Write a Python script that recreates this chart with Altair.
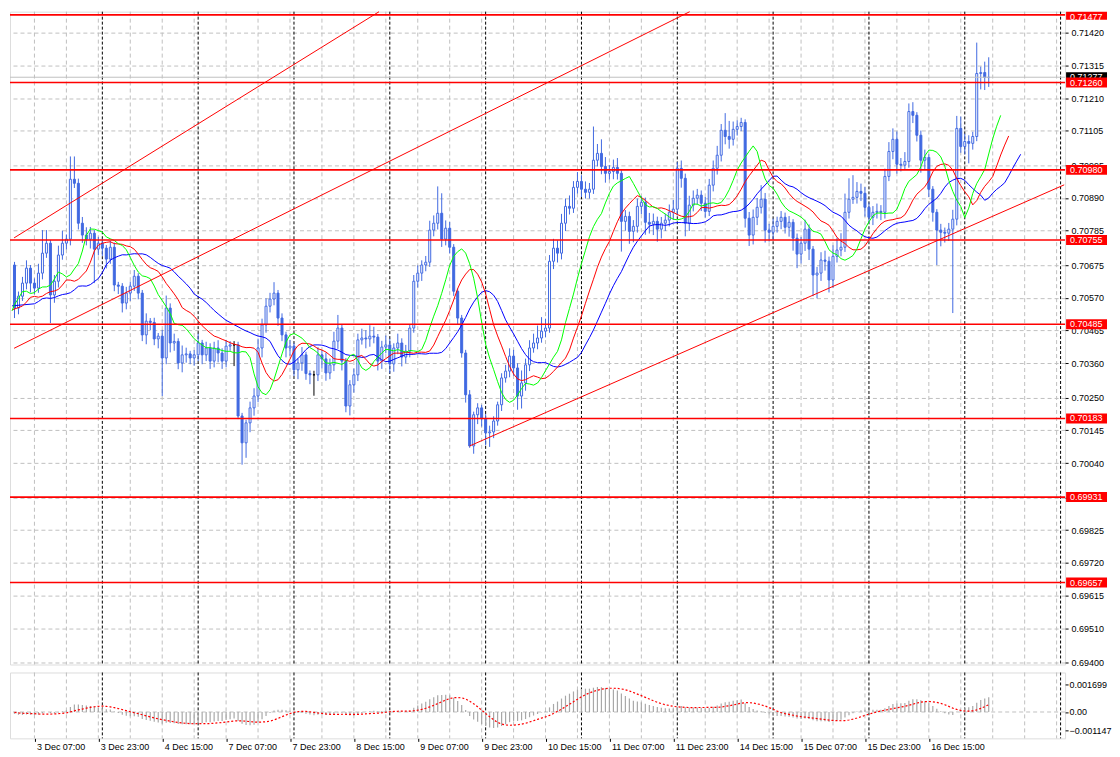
import altair as alt
import pandas as pd

# ---------------- data ----------------
first_open = 0.70595
closes = [
    0.70681, 0.70687, 0.70675, 0.70537, 0.70575, 0.70617, 0.70665, 0.70617, 0.70601, 0.70649,
    0.70713, 0.70745, 0.70579, 0.70623, 0.70707, 0.70745, 0.70758, 0.70950, 0.70937, 0.70809,
    0.70771, 0.70758, 0.70777, 0.70726, 0.70745, 0.70729, 0.70694, 0.70732, 0.70611, 0.70607,
    0.70553, 0.70585, 0.70607, 0.70639, 0.70585, 0.70451, 0.70495, 0.70491, 0.70438, 0.70447,
    0.70377, 0.70537, 0.70425, 0.70430, 0.70361, 0.70387, 0.70390, 0.70377, 0.70387, 0.70425,
    0.70387, 0.70409, 0.70367, 0.70409, 0.70393, 0.70367, 0.70415, 0.70419, 0.70419, 0.70191,
    0.70105, 0.70169, 0.70217, 0.70255, 0.70409, 0.70483, 0.70543, 0.70566, 0.70585, 0.70505,
    0.70451, 0.70409, 0.70415, 0.70339, 0.70361, 0.70387, 0.70327, 0.70323, 0.70323, 0.70387,
    0.70374, 0.70329, 0.70355, 0.70431, 0.70473, 0.70367, 0.70223, 0.70291, 0.70323, 0.70435,
    0.70441, 0.70438, 0.70447, 0.70444, 0.70367, 0.70412, 0.70419, 0.70358, 0.70409, 0.70425,
    0.70380, 0.70399, 0.70473, 0.70623, 0.70649, 0.70675, 0.70684, 0.70787, 0.70809, 0.70841,
    0.70758, 0.70793, 0.70732, 0.70591, 0.70505, 0.70393, 0.70259, 0.70095, 0.70195, 0.70217,
    0.70182, 0.70137, 0.70140, 0.70175, 0.70227, 0.70313, 0.70335, 0.70383, 0.70345, 0.70255,
    0.70297, 0.70355, 0.70409, 0.70425, 0.70441, 0.70463, 0.70473, 0.70687, 0.70729, 0.70713,
    0.70809, 0.70863, 0.70857, 0.70924, 0.70943, 0.70918, 0.70908, 0.70918, 0.71011, 0.71033,
    0.70991, 0.70969, 0.70975, 0.70988, 0.70969, 0.70815, 0.70831, 0.70783, 0.70799, 0.70863,
    0.70876, 0.70812, 0.70806, 0.70815, 0.70790, 0.70809, 0.70819, 0.70844, 0.70854, 0.70985,
    0.70953, 0.70809, 0.70867, 0.70889, 0.70899, 0.70873, 0.70847, 0.70931, 0.70985, 0.71027,
    0.71107, 0.71087, 0.71078, 0.71110, 0.71119, 0.71132, 0.70825, 0.70771, 0.70828, 0.70860,
    0.70886, 0.70787, 0.70780, 0.70799, 0.70815, 0.70828, 0.70796, 0.70812, 0.70761, 0.70710,
    0.70745, 0.70790, 0.70726, 0.70643, 0.70649, 0.70691, 0.70687, 0.70627, 0.70703, 0.70723,
    0.70732, 0.70844, 0.70886, 0.70892, 0.70911, 0.70905, 0.70860, 0.70828, 0.70844, 0.70847,
    0.70844, 0.70959, 0.71039, 0.71078, 0.70998, 0.70995, 0.71007, 0.71167, 0.71155, 0.71091,
    0.71011, 0.71020, 0.70918, 0.70844, 0.70787, 0.70780, 0.70777, 0.70790, 0.70822, 0.71113,
    0.71055, 0.71071, 0.71065, 0.71087, 0.71289, 0.71292, 0.71276, 0.71277,
]
# wick lengths above / below the candle body, in points (0.00001)
upper_wick_pts = [
    15, 10, 20, 10, 15, 20, 25, 10, 15, 30,
    74, 42, 10, 20, 30, 40, 15, 73, 73, 15,
    20, 25, 20, 10, 20, 15, 10, 20, 15, 10,
    10, 20, 15, 20, 10, 10, 25, 10, 15, 10,
    20, 40, 15, 25, 10, 30, 20, 10, 15, 30,
    10, 20, 15, 20, 25, 15, 20, 12, 12, 10,
    10, 10, 20, 25, 30, 20, 25, 20, 35, 10,
    15, 10, 20, 10, 15, 25, 10, 10, 13, 25,
    15, 20, 20, 30, 42, 10, 10, 15, 20, 20,
    30, 25, 35, 30, 10, 20, 30, 20, 15, 30,
    15, 20, 10, 20, 25, 15, 20, 30, 25, 86,
    64, 25, 20, 10, 10, 10, 10, 15, 10, 15,
    10, 15, 20, 15, 10, 15, 20, 25, 20, 15,
    40, 20, 25, 30, 40, 45, 30, 20, 30, 25,
    30, 25, 35, 20, 30, 20, 25, 20, 108, 30,
    45, 30, 20, 25, 30, 10, 20, 15, 20, 25,
    20, 15, 30, 25, 15, 20, 20, 25, 30, 20,
    25, 15, 30, 25, 20, 15, 20, 20, 25, 30,
    20, 55, 50, 25, 20, 15, 10, 20, 25, 30,
    45, 20, 20, 25, 15, 20, 15, 20, 10, 15,
    20, 30, 15, 10, 20, 25, 30, 15, 35, 40,
    45, 60, 67, 71, 30, 25, 20, 15, 20, 25,
    20, 25, 30, 35, 25, 20, 30, 26, 30, 10,
    15, 25, 10, 10, 10, 20, 15, 20, 30, 40,
    38, 25, 20, 15, 99, 19, 35, 64,
]
lower_wick_pts = [
    30, 86, 25, 32, 20, 15, 20, 30, 20, 15,
    20, 15, 90, 25, 20, 15, 20, 20, 15, 20,
    25, 20, 30, 109, 20, 25, 30, 15, 20, 25,
    30, 20, 25, 15, 20, 20, 30, 25, 20, 30,
    122, 20, 30, 25, 20, 30, 25, 20, 25, 20,
    30, 20, 25, 20, 30, 25, 20, 15, 68, 10,
    70, 48, 30, 25, 20, 30, 25, 20, 20, 25,
    20, 30, 25, 20, 30, 25, 20, 30, 67, 20,
    30, 25, 20, 20, 25, 30, 20, 30, 25, 20,
    15, 30, 25, 20, 30, 25, 20, 30, 25, 20,
    30, 20, 20, 15, 20, 25, 20, 15, 20, 20,
    25, 20, 20, 15, 20, 15, 25, 6, 25, 30,
    25, 40, 45, 20, 15, 20, 15, 20, 25, 44,
    40, 25, 20, 15, 20, 15, 20, 15, 25, 30,
    20, 25, 20, 15, 20, 25, 20, 20, 15, 20,
    25, 30, 20, 25, 20, 97, 30, 40, 35, 20,
    25, 40, 30, 35, 40, 30, 25, 20, 25, 20,
    30, 42, 25, 20, 20, 25, 20, 15, 20, 20,
    20, 25, 30, 20, 20, 15, 30, 35, 30, 25,
    20, 40, 30, 25, 20, 25, 20, 30, 40, 45,
    30, 25, 35, 68, 75, 25, 30, 40, 25, 20,
    20, 15, 20, 15, 20, 25, 30, 20, 25, 20,
    25, 20, 15, 25, 30, 20, 15, 20, 25, 20,
    40, 30, 25, 30, 112, 45, 30, 25, 269, 20,
    20, 25, 64, 20, 15, 51, 40, 30,
]

time_tick_bars = [8, 24, 40, 56, 72, 88, 104, 120, 136, 152, 168, 184, 200, 216, 232]
time_tick_labels = ["3 Dec 07:00", "3 Dec 23:00", "4 Dec 15:00", "7 Dec 07:00", "7 Dec 23:00",
                    "8 Dec 15:00", "9 Dec 07:00", "9 Dec 23:00", "10 Dec 15:00", "11 Dec 07:00",
                    "11 Dec 23:00", "14 Dec 15:00", "15 Dec 07:00", "15 Dec 23:00", "16 Dec 15:00"]
day_start_bars = [25, 49, 73, 97, 121, 145, 169, 193, 217, 241, 265]
price_ticks = [0.71420, 0.71315, 0.71210, 0.71105, 0.70995, 0.70890, 0.70785, 0.70675, 0.70570,
               0.70465, 0.70360, 0.70250, 0.70145, 0.70040, 0.69930, 0.69825, 0.69720, 0.69615,
               0.69510, 0.69400]
level_prices = [0.71477, 0.71260, 0.70980, 0.70755, 0.70485, 0.70183, 0.69931, 0.69657]
current_price = 0.71277
channel_upper_bars = [2.9, 94.3]
channel_upper_prices = [0.70762, 0.71487]
channel_mid_bars = [2.9, 172.1]
channel_mid_prices = [0.70408, 0.71487]
channel_low_bars = [117, 265.9]
channel_low_prices = [0.70095, 0.70932]
alligator_seed = {"lips": 0.70528, "teeth": 0.70531, "jaw": 0.70544}
macd_ticks = [0.001699, 0.0, -0.001147]

# ---------------- layout constants ----------------
FONT = "Liberation Sans"
FS = 9
W, H_MAIN, H_MACD = 1057, 654, 66
X_DOMAIN = [1.875, 1.875 + W / 4.0]
Y_DOMAIN = [0.693944, 0.714872]
MACD_DOMAIN = [-0.001641, 0.002461]
BLUE = "#4169e1"
GRID = "#c0c0c0"
BOX_HALF = 5 * (Y_DOMAIN[1] - Y_DOMAIN[0]) / H_MAIN
FIRST_VISIBLE = 3

# ---------------- derived tables ----------------
n = len(closes)
opens = [first_open] + closes[:-1]
rows = []
for i in range(n):
    o, c = opens[i], closes[i]
    hi = max(o, c) + upper_wick_pts[i] / 1e5
    lo = min(o, c) - lower_wick_pts[i] / 1e5
    oi, ci = round(o * 1e5), round(c * 1e5)
    kind = "bull" if ci > oi else ("bear" if ci < oi else "doji")
    rows.append(dict(bar=i, xl=i - 0.25, xr=i + 0.25, open=o, close=c, high=hi, low=lo, kind=kind))
candles = pd.DataFrame(rows)
candles_vis = candles[candles["bar"] >= FIRST_VISIBLE]

median = [(r["high"] + r["low"]) / 2 for r in rows]


def smma(vals, period, seed):
    out, s = [], seed
    for v in vals:
        s = (s * (period - 1) + v) / period
        out.append(s)
    return out


def shifted_line(vals, shift, seed):
    pts = [dict(bar=X_DOMAIN[0] + 0.5, price=seed)]
    pts += [dict(bar=i + shift, price=v) for i, v in enumerate(vals)]
    return pd.DataFrame(pts)


lips = shifted_line(smma(median, 5, alligator_seed["lips"]), 3, alligator_seed["lips"])
teeth = shifted_line(smma(median, 8, alligator_seed["teeth"]), 5, alligator_seed["teeth"])
jaw = shifted_line(smma(median, 13, alligator_seed["jaw"]), 8, alligator_seed["jaw"])


def ema(vals, period):
    a, e, out = 2.0 / (period + 1), vals[0], []
    for v in vals:
        e = e + a * (v - e)
        out.append(e)
    return out


e12, e26 = ema(closes, 12), ema(closes, 26)
macd = [a - b for a, b in zip(e12, e26)]
signal = []
for i in range(n):
    w = macd[max(0, i - 8): i + 1]
    signal.append(sum(w) / len(w))
macd_df = pd.DataFrame(dict(bar=list(range(n)), macd=macd, signal=signal, zero=[0.0] * n))
macd_vis = macd_df[macd_df["bar"] >= FIRST_VISIBLE]

grid_df = pd.DataFrame(dict(bar=list(range(8, 266, 8))))
day_df = pd.DataFrame(dict(bar=day_start_bars))


def box_table(prices):
    return pd.DataFrame(dict(
        price=prices,
        ytop=[min(p + BOX_HALF, Y_DOMAIN[1]) for p in prices],
        ybot=[p - BOX_HALF for p in prices],
        ytext=[min(p, Y_DOMAIN[1] - BOX_HALF) for p in prices],
        label=[f"{p:.5f}" for p in prices]))


levels_df = box_table(level_prices)
cur_df = box_table([current_price])
chan_df = pd.concat([
    pd.DataFrame(dict(bar=channel_upper_bars, price=channel_upper_prices, line="upper")),
    pd.DataFrame(dict(bar=channel_mid_bars, price=channel_mid_prices, line="mid")),
    pd.DataFrame(dict(bar=channel_low_bars, price=channel_low_prices, line="low")),
])

# ---------------- scales / axes ----------------
xs = alt.Scale(domain=X_DOMAIN, nice=False, zero=False)
ys = alt.Scale(domain=Y_DOMAIN, nice=False, zero=False)
ms = alt.Scale(domain=MACD_DOMAIN, nice=False, zero=False)

y_axis = alt.Axis(orient="right", values=price_ticks, format=".5f", title=None, grid=True,
                  gridColor=GRID, gridDash=[4, 3], gridWidth=1, domain=False, tickColor="black",
                  tickSize=3, labelColor="black", labelFont=FONT, labelFontSize=FS, labelPadding=3,
                  labelOverlap=False, labelFlush=False)
m_axis = alt.Axis(orient="right", values=macd_ticks, title=None, grid=False, domain=False,
                  labelExpr="datum.value == 0 ? '0.00' : format(datum.value, '.6f')",
                  tickColor="black", tickSize=3, labelColor="black", labelFont=FONT,
                  labelFontSize=FS, labelPadding=1, labelOverlap=False, labelFlush=False)
lab_arr = "[" + ",".join("'" + s + "'" for s in time_tick_labels) + "]"
bar_arr = "[" + ",".join(str(b) for b in time_tick_bars) + "]"
x_axis = alt.Axis(values=time_tick_bars, title=None, grid=False, domain=False,
                  labelExpr=f"{lab_arr}[indexof({bar_arr}, datum.value)]",
                  tickColor="black", tickSize=3, labelColor="black", labelFont=FONT,
                  labelFontSize=FS, labelAlign="left", labelOffset=2, labelPadding=1,
                  labelOverlap=False, labelFlush=False)


def X(f, axis=None):
    return alt.X(f"{f}:Q", scale=xs, axis=axis)


def Y(f):
    return alt.Y(f"{f}:Q", scale=ys, axis=y_axis)


def MY(f):
    return alt.Y(f"{f}:Q", scale=ms, axis=m_axis)


kinds = ["bull", "bear", "doji"]

# ---------------- main price panel ----------------
vgrid = alt.Chart(grid_df).mark_rule(color=GRID, strokeDash=[4, 3], strokeWidth=1).encode(x=X("bar"))
dsep = alt.Chart(day_df).mark_rule(color="black", strokeDash=[3, 2], strokeWidth=1).encode(x=X("bar"))

wicks = alt.Chart(candles_vis).mark_rule(strokeWidth=1).encode(
    x=X("bar"), y=Y("low"), y2="high",
    color=alt.Color("kind:N", scale=alt.Scale(domain=kinds, range=[BLUE, BLUE, "black"]), legend=None))
bodies = alt.Chart(candles_vis).mark_rect(strokeWidth=1).encode(
    x=X("xl"), x2="xr", y=Y("open"), y2="close",
    fill=alt.Fill("kind:N", scale=alt.Scale(domain=kinds, range=["white", BLUE, "black"]), legend=None),
    stroke=alt.Stroke("kind:N", scale=alt.Scale(domain=kinds, range=[BLUE, BLUE, "black"]), legend=None))

jaw_l = alt.Chart(jaw).mark_line(color="#0000ff", strokeWidth=1).encode(x=X("bar"), y=Y("price"))
teeth_l = alt.Chart(teeth).mark_line(color="#ff0000", strokeWidth=1).encode(x=X("bar"), y=Y("price"))
lips_l = alt.Chart(lips).mark_line(color="#00ff00", strokeWidth=1).encode(x=X("bar"), y=Y("price"))

cur_line = alt.Chart(cur_df).mark_rule(color="#c0c0c0", strokeWidth=1).encode(y=Y("price"))
lev_lines = alt.Chart(levels_df).mark_rule(color="#ff0000", strokeWidth=1.6).encode(y=Y("price"))
chan = alt.Chart(chan_df).mark_line(color="#ff0000", strokeWidth=1).encode(
    x=X("bar"), y=Y("price"), detail="line:N")

cur_box = alt.Chart(cur_df).mark_rect(color="black").encode(
    x=alt.value(W + 1), x2=alt.value(W + 42), y=Y("ytop"), y2="ybot")
cur_txt = alt.Chart(cur_df).mark_text(align="left", baseline="middle", color="white", font=FONT,
                                      fontSize=FS).encode(x=alt.value(W + 5), y=Y("ytext"), text="label:N")
lev_box = alt.Chart(levels_df).mark_rect(color="#ff0000").encode(
    x=alt.value(W + 1), x2=alt.value(W + 42), y=Y("ytop"), y2="ybot")
lev_txt = alt.Chart(levels_df).mark_text(align="left", baseline="middle", color="white", font=FONT,
                                         fontSize=FS).encode(x=alt.value(W + 5), y=Y("ytext"), text="label:N")

main = alt.layer(vgrid, dsep, wicks, bodies, jaw_l, teeth_l, lips_l, cur_line, lev_lines, chan,
                 cur_box, cur_txt, lev_box, lev_txt).properties(width=W, height=H_MAIN)

# ---------------- MACD panel ----------------
m_vgrid = alt.Chart(grid_df).mark_rule(color=GRID, strokeDash=[4, 3], strokeWidth=1).encode(
    x=X("bar", x_axis))
m_dsep = alt.Chart(day_df).mark_rule(color="black", strokeDash=[3, 2], strokeWidth=1).encode(
    x=X("bar", x_axis))
m_zero = alt.Chart(macd_df.head(1)).mark_rule(color=GRID, strokeDash=[4, 3], strokeWidth=1).encode(
    y=MY("zero"))
m_hist = alt.Chart(macd_vis).mark_rule(color="#a8a8a8", strokeWidth=1.2).encode(
    x=X("bar", x_axis), y=MY("macd"), y2="zero")
m_sig = alt.Chart(macd_vis).mark_line(color="#ff0000", strokeWidth=1.2, strokeDash=[2, 2]).encode(
    x=X("bar", x_axis), y=MY("signal"))

macd_panel = alt.layer(m_vgrid, m_dsep, m_zero, m_hist, m_sig).properties(width=W, height=H_MACD)

chart = alt.vconcat(main, macd_panel, spacing=3).properties(
    padding={"left": 0, "top": 0, "right": 0, "bottom": 0}).configure_view(
    stroke="black", strokeWidth=1).configure(background="white")

chart.save("out.html", embed_options={"renderer": "svg", "actions": False})
